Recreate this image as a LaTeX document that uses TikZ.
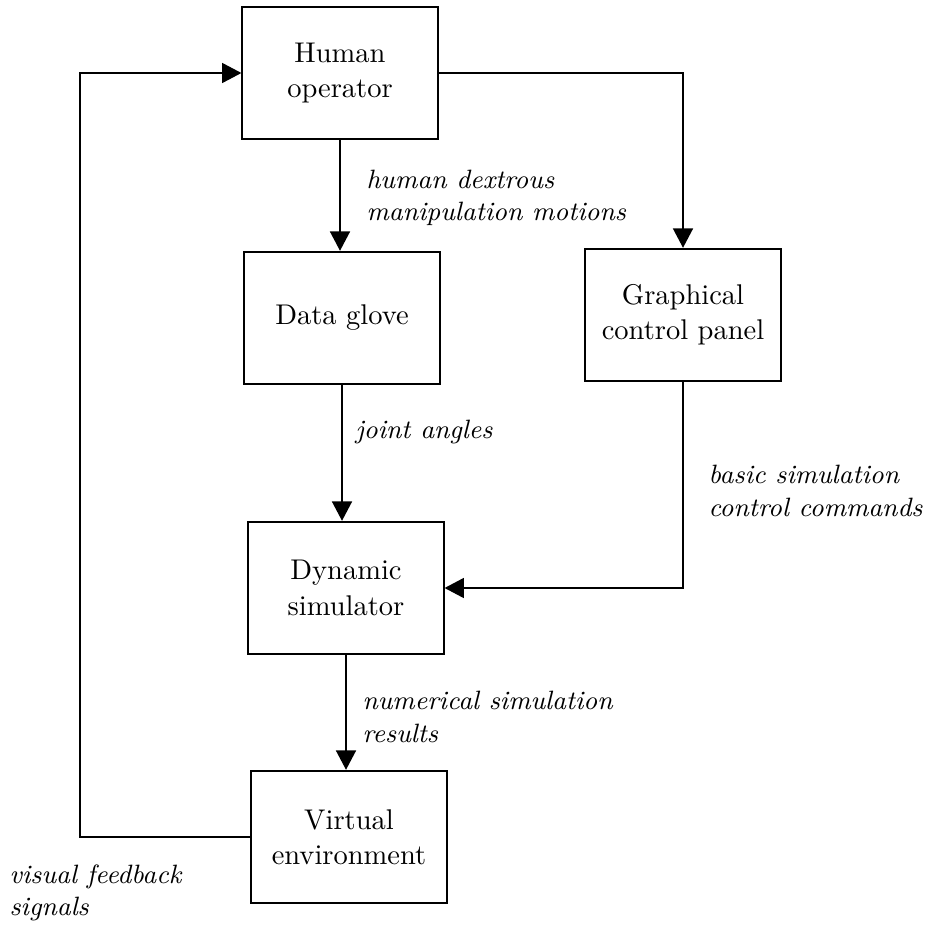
\documentclass[tikz,border=0pt]{standalone}
\usepackage{tikz}
\usetikzlibrary{arrows.meta,positioning}
\tikzset{
  blk/.style={draw,line width=0.65pt,inner sep=0pt,minimum width=68.5pt,minimum height=46.5pt,align=center,font=\fontsize{10}{12.4}\selectfont},
  lbl/.style={anchor=west,align=left,inner sep=0pt,font=\itshape\fontsize{9.3}{11.4}\selectfont},
  arr/.style={line width=0.65pt,-{Triangle[length=6.8pt,width=7pt]}},
}

\begin{document}
\begin{tikzpicture}[x=0.012334cm,y=-0.012334cm]
\useasboundingbox (0,0) rectangle (927,927);
% BOXES
\node[blk] (human) at (340,73) {Human\\operator};
\node[blk] (glove) at (342,318) {Data glove};
\node[blk] (panel) at (683,315) {Graphical\\control panel};
\node[blk] (dyn) at (346,588) {Dynamic\\simulator};
\node[blk] (virt) at (349,837) {Virtual\\environment};
\coordinate (fbk) at (80,0);
% CONNECTORS
\draw[arr] (human.south) -- (human.south |- glove.north);
\draw[arr] (human.east) -| (panel.north);
\draw[arr] (glove.south) -- (glove.south |- dyn.north);
\draw[arr] (panel.south) |- (dyn.east);
\draw[arr] (dyn.south) -- (dyn.south |- virt.north);
\draw[arr] (virt.west) -- (virt.west -| fbk) |- (human.west);
% LABELS
\node[lbl] (lhd) at (366,198) {human dextrous\\manipulation motions};
\node[lbl] (lja) at (355,432) {joint angles};
\node[lbl] (lbs) at (708,491) {basic simulation\\control commands};
\node[lbl] (lns) at (362,717) {numerical simulation\\results};
\node[lbl] (lvf) at (9,893) {visual feedback\\signals};
\end{tikzpicture}
\end{document}
